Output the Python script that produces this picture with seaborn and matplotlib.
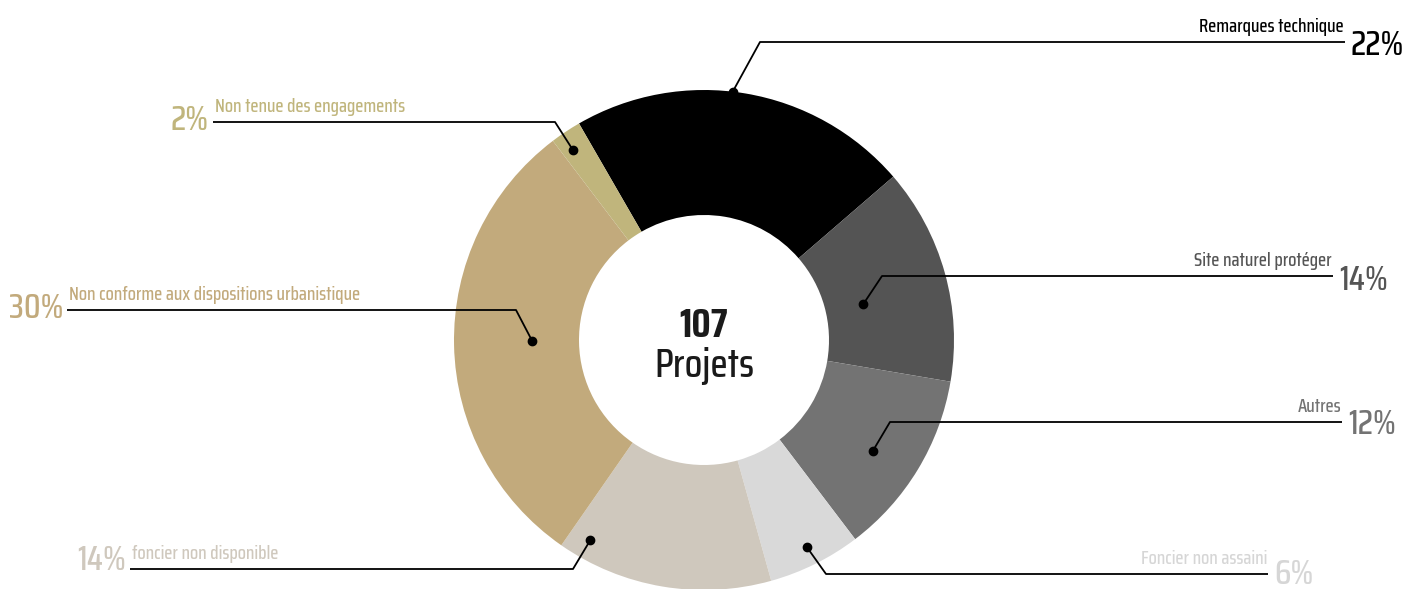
import numpy as np
import matplotlib
matplotlib.use("Agg")
import matplotlib.pyplot as plt
from matplotlib import font_manager as fm
import seaborn as sns

# donut data, clockwise from the top-left
categories = ["Remarques technique", "Site naturel protéger", "Autres", "Foncier non assaini",
              "foncier non disponible", "Non conforme aux dispositions urbanistique",
              "Non tenue des engagements"]
shares = [22, 14, 12, 6, 14, 30, 2]
pct_labels = ["22%", "14%", "12%", "6%", "14%", "30%", "2%"]
slice_colors = ["#000000", "#545454", "#737373", "#d9d9d9", "#cfc8bd", "#c2aa7c", "#c0b57c"]
text_colors = ["#000000", "#555555", "#737373", "#d6d6d6", "#cfc8bd", "#c2aa7c", "#c0b57c"]
total_projects = 107

W, H = 1404, 589
CX, CY, R = 704, 340, 250

# leader line layout (pixel coords, y from top): dot radius, angle shift, elbow, line end, side
dot_r = [250, 163, 202, 231, 230, 172, 231]
dot_shift = [-3, 3, 2, 0, 20, 1, -1]
elbows = [(760, 42), (882, 276), (890, 422), (826, 574), (573, 569), (516, 310), (555, 122)]
line_end = [1345, 1333, 1342, 1268, 130, 67, 213]
pct_drop = [13, 14, 12, 10, 1, 8, 8]
side = ["r", "r", "r", "r", "l", "l", "l"]

sns.set_theme(style="white")
installed = {f.name for f in fm.fontManager.ttflist}
font = "DejaVu Sans"
for cand in ["Saira Semi Condensed", "Saira Condensed", "Rajdhani", "Barlow Semi Condensed"]:
    if cand in installed:
        font = cand
        break
plt.rcParams["font.family"] = [font, "DejaVu Sans"]

fig = plt.figure(figsize=(W / 100, H / 100), dpi=100)
ax = fig.add_axes([0, 0, 1, 1])


def py(y):
    return H - y


wedges, _ = ax.pie(shares, colors=slice_colors, startangle=120, counterclock=False,
                   radius=R, center=(CX, py(CY)),
                   wedgeprops=dict(width=R / 2, linewidth=0))
ax.set_xlim(0, W)
ax.set_ylim(0, H)
ax.set_aspect("equal")
ax.axis("off")

for i, w in enumerate(wedges):
    mid = np.deg2rad((w.theta1 + w.theta2) / 2 - dot_shift[i])
    dx = CX + dot_r[i] * np.cos(mid)
    dy = py(CY) + dot_r[i] * np.sin(mid)
    ex, ey = elbows[i]
    ax.plot([dx, ex, line_end[i]], [dy, py(ey), py(ey)], color="black", lw=1.3,
            solid_capstyle="butt", zorder=3)
    ax.plot(dx, dy, "o", color="black", ms=6, zorder=4)
    if side[i] == "r":
        ax.text(line_end[i] - 1, py(ey) + 10, categories[i], ha="right", va="baseline",
                fontsize=13.5, fontweight="medium", color=text_colors[i])
        ax.text(line_end[i] + 6, py(ey) - pct_drop[i], pct_labels[i], ha="left", va="baseline",
                fontsize=25, fontweight="medium", color=text_colors[i])
    else:
        ax.text(line_end[i] + 2, py(ey) + 10, categories[i], ha="left", va="baseline",
                fontsize=13.5, fontweight="medium", color=text_colors[i])
        ax.text(line_end[i] - 4, py(ey) - pct_drop[i], pct_labels[i], ha="right", va="baseline",
                fontsize=25, fontweight="medium", color=text_colors[i])

ax.text(CX, py(337), str(total_projects), ha="center", va="baseline", fontsize=29,
        fontweight="bold", color="#1a1a1a")
ax.text(CX, py(377), "Projets", ha="center", va="baseline", fontsize=29,
        fontweight="medium", color="#1a1a1a")

fig.savefig("out.png", dpi=100)
